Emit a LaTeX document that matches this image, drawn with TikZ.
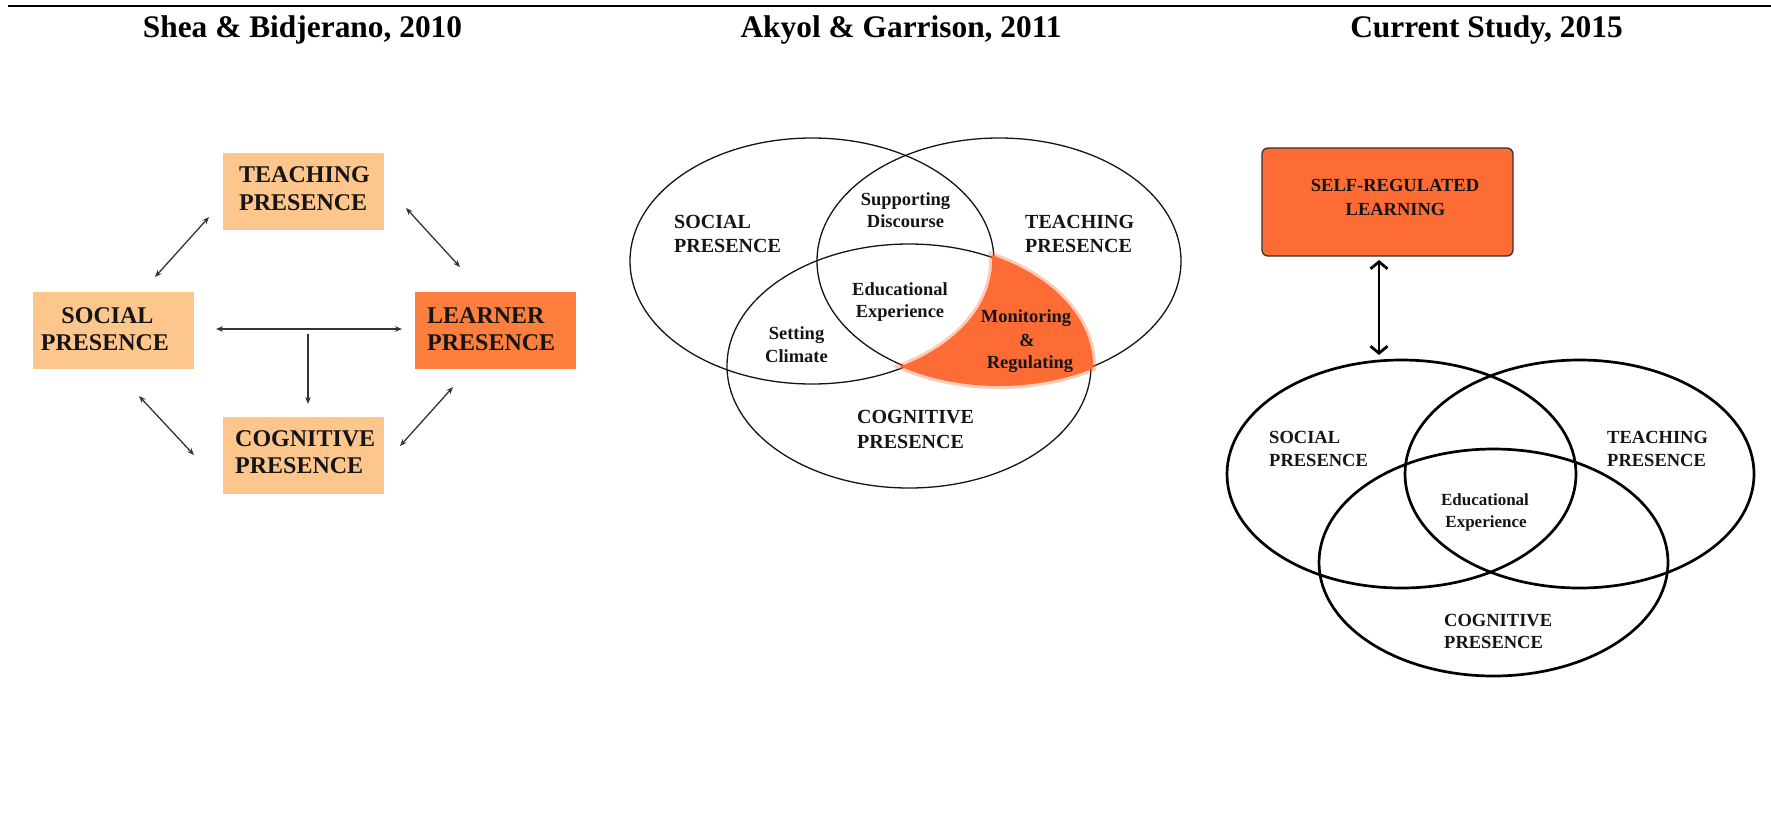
\documentclass[tikz,border=0pt]{standalone}
\usepackage{fontspec}
\setmainfont{Liberation Serif}
\usetikzlibrary{arrows.meta}
\definecolor{lightor}{HTML}{FCC68C}
\definecolor{learnor}{HTML}{FD7F3E}
\definecolor{hotor}{HTML}{FE6C36}
\definecolor{arrgray}{HTML}{333333}
\definecolor{inkc}{HTML}{151515}
\tikzset{
  ttl/.style={font=\fontsize{31.4}{36}\selectfont\bfseries, inner sep=0pt, anchor=base},
  pbox/.style={draw=none, inner sep=0pt, minimum width=161pt, minimum height=77pt},
  btxt/.style={font=\fontsize{24}{28}\selectfont\bfseries, inner sep=0pt, text=inkc},
  mtxt/.style={font=\fontsize{20}{24}\selectfont\bfseries, inner sep=0pt, text=inkc},
  stxt/.style={font=\fontsize{18.5}{22}\selectfont\bfseries, inner sep=0pt, text=inkc},
  rtxt/.style={font=\fontsize{18.5}{22}\selectfont\bfseries, inner sep=0pt, text=inkc},
  etxt/.style={font=\fontsize{17}{20}\selectfont\bfseries, inner sep=0pt, text=inkc},
  dblarr/.style={draw=arrgray, line width=1.3pt, {Stealth[length=7pt,width=5.5pt]}-{Stealth[length=7pt,width=5.5pt]}},
  onearr/.style={draw=arrgray, line width=1.3pt, -{Stealth[length=7pt,width=5.5pt]}},
  thinell/.style={draw=inkc, line width=1.3pt},
  thickell/.style={draw=black, line width=2.7pt},
  bigarr/.style={draw=black, line width=2.8pt, {Straight Barb[length=7pt,width=17pt]}-{Straight Barb[length=7pt,width=17pt]}},
}
\begin{document}
\begin{tikzpicture}[x=1pt,y=-1pt]
\useasboundingbox (0,0) rectangle (1771,812);
% top rule
\coordinate (ruleL) at (8,6);
\coordinate (ruleR) at (1771,6);
\draw[line width=2.5pt, black] (ruleL) -- (ruleR);
% titles
\node[ttl] (t1) at (302.5,37) {Shea \& Bidjerano, 2010};
\node[ttl] (t2) at (901,37) {Akyol \& Garrison, 2011};
\node[ttl] (t3) at (1486.5,37) {Current Study, 2015};

% ---------- Left panel ----------
\node[pbox, fill=lightor] (tp) at (303.5,191.5) {};
\node[pbox, fill=lightor] (sp) at (113.5,330.5) {};
\node[pbox, fill=learnor] (lp) at (495.5,330.5) {};
\node[pbox, fill=lightor] (cp) at (303.5,455.5) {};

\node[btxt, anchor=base west] (tp1) at (239,182) {TEACHING};
\node[btxt, anchor=base west] (tp2) at (239,210) {PRESENCE};
\node[btxt, anchor=base] (sp1) at (107.5,323) {SOCIAL};
\node[btxt, anchor=base] (sp2) at (105,350) {PRESENCE};
\node[btxt, anchor=base west] (lp1) at (427,323) {LEARNER};
\node[btxt, anchor=base west] (lp2) at (427,350) {PRESENCE};
\node[btxt, anchor=base west] (cp1) at (235,446) {COGNITIVE};
\node[btxt, anchor=base west] (cp2) at (235,473) {PRESENCE};

\coordinate (ts1) at (209,217); \coordinate (ts2) at (155,277);
\coordinate (tl1) at (406,208); \coordinate (tl2) at (460,267);
\coordinate (sl1) at (216,329); \coordinate (sl2) at (402,329);
\coordinate (vc1) at (308,334); \coordinate (vc2) at (308,404);
\coordinate (sc1) at (139,396); \coordinate (sc2) at (194,455);
\coordinate (lc1) at (453,387); \coordinate (lc2) at (400,446);
\draw[dblarr] (ts1) -- (ts2);
\draw[dblarr] (tl1) -- (tl2);
\draw[dblarr] (sl1) -- (sl2);
\draw[onearr] (vc1) -- (vc2);
\draw[dblarr] (sc1) -- (sc2);
\draw[dblarr] (lc1) -- (lc2);

% ---------- Middle panel ----------
\draw[thinell] (812,261) ellipse [x radius=182pt, y radius=123pt];
\draw[thinell] (999,261) ellipse [x radius=182pt, y radius=123pt];
\draw[thinell] (909,366) ellipse [x radius=182pt, y radius=122pt];
% glow
\begin{scope}
  \clip (999,261) ellipse [x radius=187pt, y radius=128pt];
  \clip (909,366) ellipse [x radius=187pt, y radius=127pt];
  \fill[hotor, opacity=0.35, even odd rule] (812,261) ellipse [x radius=177pt, y radius=118pt] (600,100) rectangle (1200,520);
\end{scope}
\begin{scope}
  \clip (999,261) ellipse [x radius=184pt, y radius=125pt];
  \clip (909,366) ellipse [x radius=184pt, y radius=124pt];
  \fill[hotor, even odd rule] (812,261) ellipse [x radius=180pt, y radius=121pt] (600,100) rectangle (1200,520);
\end{scope}

\node[mtxt, anchor=base west] (ms1) at (674,228) {SOCIAL};
\node[mtxt, anchor=base west] (ms2) at (674,252) {PRESENCE};
\node[mtxt, anchor=base west] (mt1) at (1025,228) {TEACHING};
\node[mtxt, anchor=base west] (mt2) at (1025,252) {PRESENCE};
\node[stxt, anchor=base] (sd1) at (905.5,205) {Supporting};
\node[stxt, anchor=base] (sd2) at (905.5,227) {Discourse};
\node[stxt, anchor=base] (ee1) at (900,295) {Educational};
\node[stxt, anchor=base] (ee2) at (900,317) {Experience};
\node[stxt, anchor=base] (sc1t) at (796.5,339) {Setting};
\node[stxt, anchor=base] (sc2t) at (796.5,362) {Climate};
\node[stxt, anchor=base] (mr1) at (1026,322) {Monitoring};
\node[stxt, anchor=base] (mr2) at (1027,346) {\&};
\node[stxt, anchor=base] (mr3) at (1030,368) {Regulating};
\node[mtxt, anchor=base west] (mc1) at (857,423) {COGNITIVE};
\node[mtxt, anchor=base west] (mc2) at (857,448) {PRESENCE};

% ---------- Right panel ----------
\node[draw=arrgray, line width=1.3pt, fill=hotor, rounded corners=6pt, minimum width=251pt, minimum height=108pt, inner sep=0pt] (srl) at (1387.5,202) {};
\node[rtxt, anchor=base] (srl1) at (1395,191) {SELF-REGULATED};
\node[rtxt, anchor=base] (srl2) at (1395.5,215) {LEARNING};
\coordinate (ba1) at (1379,260);
\coordinate (ba2) at (1379,355);
\draw[bigarr] (ba1) -- (ba2);

\draw[thickell] (1401.5,474) ellipse [x radius=174.5pt, y radius=114pt];
\draw[thickell] (1579.5,474) ellipse [x radius=174.5pt, y radius=114pt];
\draw[thickell] (1493.5,562.5) ellipse [x radius=174.5pt, y radius=113.5pt];

\node[rtxt, anchor=base west] (rs1) at (1269,443) {SOCIAL};
\node[rtxt, anchor=base west] (rs2) at (1269,466) {PRESENCE};
\node[rtxt, anchor=base west] (rt1) at (1607,443) {TEACHING};
\node[rtxt, anchor=base west] (rt2) at (1607,466) {PRESENCE};
\node[etxt, anchor=base] (re1) at (1485,505) {Educational};
\node[etxt, anchor=base] (re2) at (1486,527) {Experience};
\node[rtxt, anchor=base west] (rc1) at (1444,626) {COGNITIVE};
\node[rtxt, anchor=base west] (rc2) at (1444,648) {PRESENCE};
\end{tikzpicture}
\end{document}
